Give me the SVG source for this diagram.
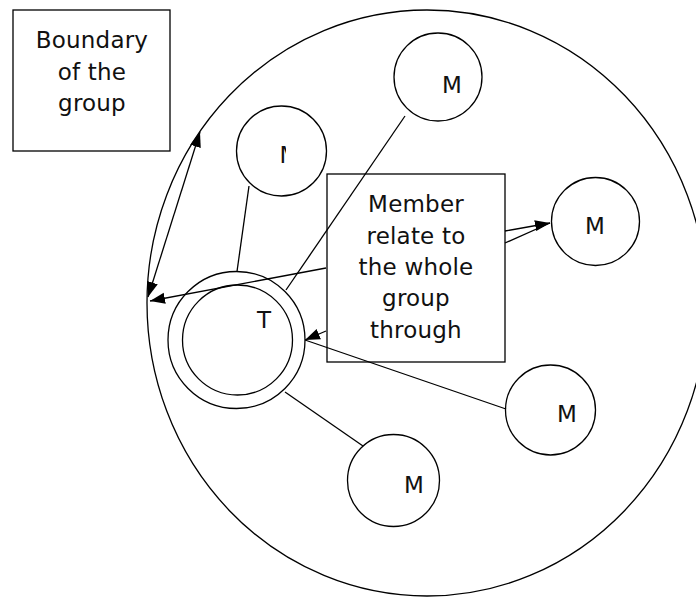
<svg xmlns="http://www.w3.org/2000/svg" width="696" height="597" viewBox="0 0 696 597">
<style>
.s{fill:none;stroke:#000;stroke-width:1.3}
.t{font-family:"DejaVu Sans",Verdana,sans-serif;font-size:23px;letter-spacing:0.2px;fill:#111;text-anchor:middle}
</style>
<defs>
<marker id="ah" markerUnits="userSpaceOnUse" markerWidth="16" markerHeight="12" refX="15" refY="6" orient="auto">
<path d="M0,0.5 L15,6 L0,11.5 Z" fill="#000"/>
</marker>
<marker id="ahs" markerUnits="userSpaceOnUse" markerWidth="16" markerHeight="12" refX="1" refY="6" orient="auto">
<path d="M16,0.5 L1,6 L16,11.5 Z" fill="#000"/>
</marker>
<clipPath id="cm"><rect x="270" y="130" width="16" height="40"/></clipPath>
</defs>
<rect width="696" height="597" fill="#fff"/>
<g id="group-boundary">
<ellipse class="s" cx="427" cy="303" rx="280" ry="293"/>
</g>
<g id="boundary-label">
<rect class="s" x="13" y="10" width="157" height="141"/>
<text class="t" x="92" y="48">Boundary</text>
<text class="t" x="92" y="79.5">of the</text>
<text class="t" x="92" y="111">group</text>
</g>
<g id="member-label">
<rect class="s" x="327" y="174" width="178" height="188"/>
<text class="t" x="416" y="212">Member</text>
<text class="t" x="416" y="243.5">relate to</text>
<text class="t" x="416" y="275">the whole</text>
<text class="t" x="416" y="306">group</text>
<text class="t" x="416" y="337.5">through</text>
</g>
<g id="node-T">
<circle class="s" cx="236.5" cy="340" r="68.5"/>
<circle class="s" cx="237.5" cy="340" r="55"/>
<text class="t" x="264" y="328">T</text>
</g>
<g id="node-M-top">
<circle class="s" cx="438" cy="77" r="44"/>
<text class="t" x="452" y="93">M</text>
</g>
<g id="node-M-left">
<circle class="s" cx="281.5" cy="151" r="45"/>
<text class="t" x="289.5" y="163" clip-path="url(#cm)">M</text>
</g>
<g id="node-M-right">
<circle class="s" cx="595.5" cy="221.5" r="44"/>
<text class="t" x="595" y="234">M</text>
</g>
<g id="node-M-lowright">
<circle class="s" cx="550.5" cy="410" r="45"/>
<text class="t" x="567" y="422">M</text>
</g>
<g id="node-M-bottom">
<circle class="s" cx="393.5" cy="480.5" r="46"/>
<text class="t" x="414" y="493">M</text>
</g>
<g id="connectors">
<line class="s" x1="249" y1="186" x2="237" y2="271.5"/>
<line class="s" x1="405" y1="116" x2="286" y2="290"/>
<line class="s" x1="285" y1="392" x2="363" y2="446"/>
<line class="s" x1="506" y1="409" x2="305" y2="340"/>
<line class="s" x1="326" y1="331" x2="305" y2="340" marker-end="url(#ah)"/>
<line class="s" x1="326" y1="268" x2="150" y2="301" marker-end="url(#ah)"/>
<line class="s" x1="200" y1="132" x2="148" y2="297" marker-start="url(#ahs)" marker-end="url(#ah)"/>
<line class="s" x1="505" y1="231" x2="550" y2="223" marker-end="url(#ah)"/>
<line class="s" x1="505" y1="243" x2="550" y2="223"/>
</g>
</svg>
